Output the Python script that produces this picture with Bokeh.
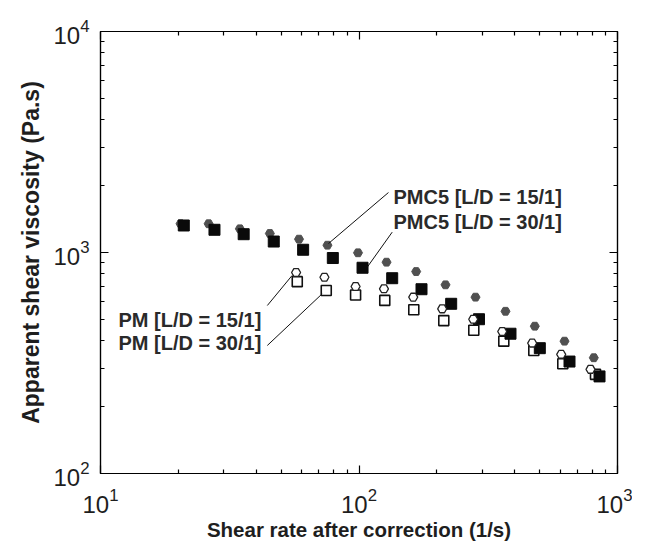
from bokeh.plotting import figure
from bokeh.models import LogAxis, FixedTicker, LogTickFormatter, CustomJSTickFormatter, ColumnDataSource
from bokeh.core.properties import value
from bokeh.embed import file_html
from bokeh.resources import INLINE

# ---- data ----
pmc5_15_x = [20.4, 26.2, 34.6, 45.2, 58.6, 75.5, 99.1, 127.8, 166.4, 216.1, 282.3, 368.7, 478.7, 623.7, 809.6]
pmc5_15_y = [1349, 1349, 1280, 1219, 1149, 1079, 997, 904, 820, 714, 628, 542, 464, 397, 334]

pmc5_30_x = [21.0, 27.6, 35.8, 46.8, 60.8, 79.2, 103.2, 134.4, 174.5, 227.3, 291.2, 385.5, 500.6, 652.1, 852.0]
pmc5_30_y = [1325, 1267, 1210, 1121, 1029, 944, 853, 765, 682, 586, 499, 429, 369, 321, 275]

pm_15_x = [57.1, 73.5, 97.0, 124.9, 162.1, 209.8, 276.6, 358.1, 467.7, 605.6, 786.3]
pm_15_y = [812, 773, 702, 685, 628, 556, 499, 439, 389, 346, 296]

pm_30_x = [57.7, 74.7, 97.0, 125.8, 162.9, 212.8, 278.0, 363.2, 474.5, 614.3, 822.0]
pm_30_y = [738, 673, 642, 607, 551, 492, 445, 397, 360, 314, 281]

major_ticks = [10, 100, 1000, 10000]
minor_ticks = [m * 10 ** k for k in (1, 2, 3) for m in range(2, 10)]

label_text = ["PMC5 [L/D = 15/1]", "PMC5 [L/D = 30/1]", "PM [L/D = 15/1]", "PM [L/D = 30/1]"]
label_x = [136, 136, 11.74, 11.74]
label_y = [1774, 1381, 497.5, 391.5]
leader_x0 = [130, 134.4, 44.2, 44.2]
leader_y0 = [1868, 1236, 575.6, 379.6]
leader_x1 = [76.2, 107.6, 55.1, 72.0]
leader_y1 = [1098, 858, 787, 650]

x_title = "Shear rate after correction (1/s)"
y_title = "Apparent shear viscosity (Pa.s)"

# ---- figure ----
p = figure(
    x_axis_type="log", y_axis_type="log",
    x_range=(10, 1000), y_range=(100, 10000),
    frame_width=517, frame_height=442,
    min_border_left=100, min_border_right=15, min_border_top=31, min_border_bottom=70,
    output_backend="svg", toolbar_location=None,
)
p.xgrid.visible = False
p.ygrid.visible = False
p.outline_line_color = "black"
p.outline_line_width = 1.2
p.background_fill_color = "white"
p.border_fill_color = "white"

FONT = "Liberation Sans"
TXT = "#1e1e1e"

def style_axis(ax, labels=True):
    ax.ticker = FixedTicker(ticks=major_ticks, minor_ticks=minor_ticks)
    ax.axis_line_color = "black"
    ax.axis_line_width = 1.2
    ax.major_tick_in = 8
    ax.major_tick_out = 0
    ax.minor_tick_in = 4
    ax.minor_tick_out = 0
    ax.major_tick_line_width = 1.2
    ax.minor_tick_line_width = 1.2
    ax.major_tick_line_color = "black"
    ax.minor_tick_line_color = "black"
    if labels:
        ax.formatter = LogTickFormatter()
        ax.major_label_text_font = FONT
        ax.major_label_text_font_size = "24px"
        ax.major_label_text_color = TXT
        ax.axis_label_text_font = FONT
        ax.axis_label_text_font_style = "bold"
        ax.axis_label_text_color = TXT
    else:
        ax.formatter = CustomJSTickFormatter(code="return ' '")
        ax.major_label_text_font_size = "1px"
        ax.major_label_text_alpha = 0
        ax.major_label_standoff = 0

xa = p.xaxis[0]
ya = p.yaxis[0]
style_axis(xa)
style_axis(ya)
xa.axis_label = x_title
xa.axis_label_text_font_size = "20.5px"
xa.major_label_standoff = 14
xa.axis_label_standoff = 2
ya.axis_label = y_title
ya.axis_label_text_font_size = "23px"
ya.major_label_standoff = 11
ya.axis_label_standoff = 6

top = LogAxis()
right = LogAxis()
style_axis(top, labels=False)
style_axis(right, labels=False)
p.add_layout(top, "above")
p.add_layout(right, "right")

# ---- series ----
p.scatter(pm_30_x, pm_30_y, marker="square", size=10, fill_color="white",
          line_color="#111111", line_width=1.6)
p.scatter(pmc5_15_x, pmc5_15_y, marker="hex", size=9, fill_color="#505050",
          line_color="#505050", line_width=1)
p.scatter(pmc5_30_x, pmc5_30_y, marker="square", size=11, fill_color="#0a0a0a",
          line_color="#0a0a0a", line_width=1)
p.scatter(pm_15_x, pm_15_y, marker="hex", size=9, fill_color="white",
          line_color="#222222", line_width=1.3)

# ---- annotations ----
p.segment(x0=leader_x0, y0=leader_y0, x1=leader_x1, y1=leader_y1,
          line_color="#111111", line_width=1)
src = ColumnDataSource(dict(x=label_x, y=label_y, t=label_text))
p.text(x="x", y="y", text="t", source=src, text_font=value(FONT),
       text_font_size="20px", text_font_style="bold", text_color="#2a2a2a",
       text_baseline="middle", text_align="left")

open("out.html", "w").write(file_html(p, INLINE))
